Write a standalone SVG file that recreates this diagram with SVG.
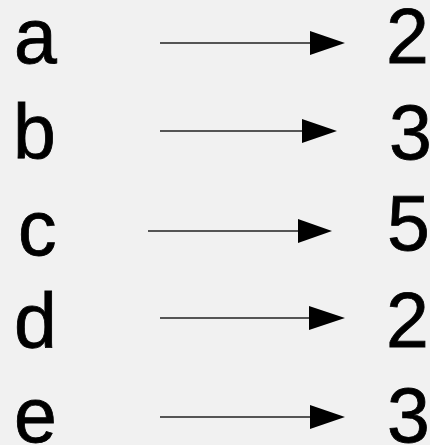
<svg xmlns="http://www.w3.org/2000/svg" width="430" height="445" viewBox="0 0 430 445">
  <style>
    .t { font-family: "Liberation Sans", Arial, sans-serif; font-size: 77px; fill: #000; stroke: #000; stroke-width: 0.8px; }
    .ln { stroke: #555; stroke-width: 2; fill: none; }
    .hd { fill: #000; }
  </style>
  <rect x="0" y="0" width="430" height="445" fill="#f1f1f1"/>
  <g id="nodes-left">
    <g id="a"><text class="t" x="14" y="63">a</text></g>
    <g id="b"><text class="t" x="13" y="159">b</text></g>
    <g id="c"><text class="t" x="18" y="255">c</text></g>
    <g id="d"><text class="t" x="14" y="348">d</text></g>
    <g id="e"><text class="t" x="14" y="442">e</text></g>
  </g>
  <g id="nodes-right">
    <g id="n2a"><text class="t" x="386" y="63">2</text></g>
    <g id="n3b"><text class="t" x="389" y="159">3</text></g>
    <g id="n5c"><text class="t" x="387" y="250">5</text></g>
    <g id="n2d"><text class="t" x="386" y="347">2</text></g>
    <g id="n3e"><text class="t" x="387" y="442">3</text></g>
  </g>
  <g id="connectors">
    <line class="ln" x1="160" y1="43" x2="312" y2="43"/>
    <polygon class="hd" points="310,31 345,43 310,55"/>
    <line class="ln" x1="160" y1="131" x2="304" y2="131"/>
    <polygon class="hd" points="302,119 337,131 302,143"/>
    <line class="ln" x1="148" y1="231" x2="300" y2="231"/>
    <polygon class="hd" points="298,219 332,231 298,243"/>
    <line class="ln" x1="160" y1="318" x2="311" y2="318"/>
    <polygon class="hd" points="309,306 345,318 309,330"/>
    <line class="ln" x1="160" y1="417" x2="312" y2="417"/>
    <polygon class="hd" points="310,405 345,417 310,429"/>
  </g>
</svg>
